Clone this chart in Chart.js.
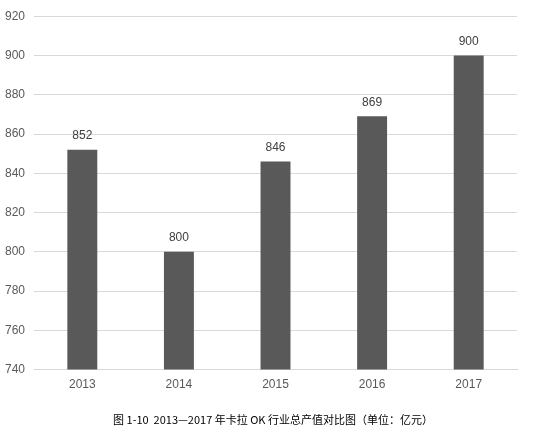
<!DOCTYPE html>
<html>
<head>
<meta charset="utf-8">
<script src="https://cdn.jsdelivr.net/npm/chart.js@4"></script>
<style>
  html, body { margin: 0; padding: 0; background: #ffffff; }
  #wrap { width: 542px; height: 436px; }
</style>
</head>
<body>
<div id="wrap"><canvas id="grafico" width="542" height="436"></canvas></div>
<script>
const anos = ["2013", "2014", "2015", "2016", "2017"];
const valores = [852, 800, 846, 869, 900];
const eixoMin = 740;
const eixoMax = 920;
const eixoPasso = 20;
const legenda = "图 1-10  2013—2017 年卡拉 OK 行业总产值对比图（单位：亿元）";

// rótulos de valor em cima de cada barra
const rotulosBarras = {
  id: "rotulosBarras",
  afterDatasetsDraw(chart) {
    const ctx = chart.ctx;
    const meta = chart.getDatasetMeta(0);
    ctx.save();
    ctx.fillStyle = "#404040";
    ctx.font = "12px 'Liberation Sans', Arial, sans-serif";
    ctx.textAlign = "center";
    ctx.textBaseline = "bottom";
    meta.data.forEach((barra, i) => {
      ctx.fillText(String(valores[i]), barra.x, barra.y - 8);
    });
    ctx.restore();
  }
};

// legenda da figura, centralizada no canvas
const legendaFigura = {
  id: "legendaFigura",
  afterDraw(chart) {
    const ctx = chart.ctx;
    ctx.save();
    ctx.fillStyle = "#000000";
    ctx.font = "11px 'Noto Sans CJK SC', sans-serif";
    ctx.textAlign = "center";
    ctx.textBaseline = "middle";
    ctx.fillText(legenda, chart.width / 2 + 2, 420);
    ctx.restore();
  }
};

new Chart(document.getElementById("grafico"), {
  type: "bar",
  data: {
    labels: anos,
    datasets: [
      {
        data: valores,
        backgroundColor: "#595959",
        borderWidth: 0,
        barPercentage: 0.31,
        categoryPercentage: 1
      }
    ]
  },
  options: {
    responsive: false,
    animation: false,
    layout: { padding: { left: -4, right: 25, top: 10, bottom: 36 } },
    plugins: {
      legend: { display: false },
      tooltip: { enabled: false },
      title: { display: false }
    },
    scales: {
      x: {
        grid: { display: false, drawTicks: false },
        border: { display: true, color: "#d9d9d9" },
        ticks: {
          color: "#595959",
          font: { family: "'Liberation Sans', Arial, sans-serif", size: 12 },
          padding: 8
        }
      },
      y: {
        min: eixoMin,
        max: eixoMax,
        grid: { color: "#d9d9d9", drawTicks: false },
        border: { display: false },
        ticks: {
          stepSize: eixoPasso,
          color: "#595959",
          font: { family: "'Liberation Sans', Arial, sans-serif", size: 12 },
          padding: 9
        }
      }
    }
  },
  plugins: [rotulosBarras, legendaFigura]
});
</script>
</body>
</html>
